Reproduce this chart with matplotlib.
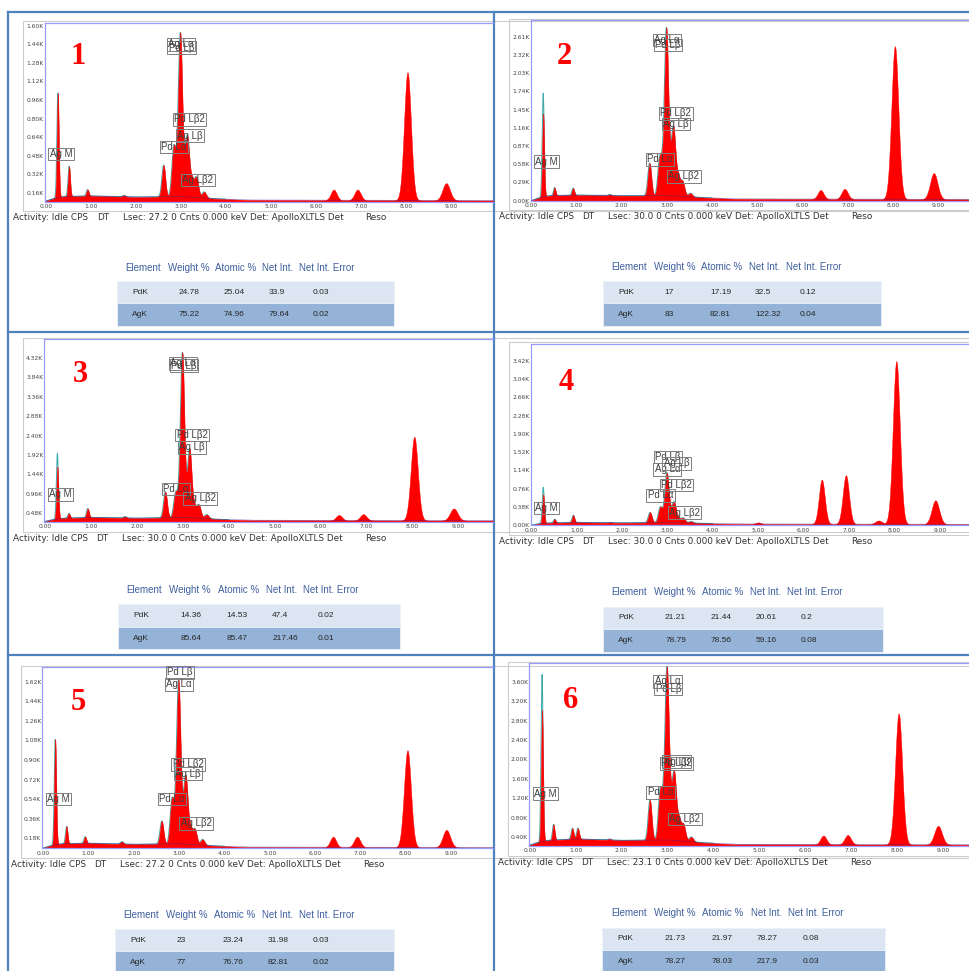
import matplotlib.pyplot as plt
from matplotlib.patches import Rectangle
import numpy as np

W, H = 970, 971

# peak energies (keV) used by all six EDS spectra
peak_keV = [0.27, 0.52, 0.93, 1.05, 1.74, 2.62, 2.84, 2.91, 2.99, 3.07, 3.15, 3.25, 3.35, 3.52,
            5.00, 6.40, 6.93, 7.65, 8.04, 8.90]

# peak tops (K counts)
peaks_1 = [1.02, 0.39, 0.19, 0.00, 0.14, 0.40, 0.52, 0.33, 1.48, 0.35, 0.61, 0.27, 0.29, 0.17, 0.00, 0.19, 0.19, 0.00, 1.20, 0.245]
peaks_2 = [1.39, 0.21, 0.20, 0.00, 0.10, 0.60, 0.62, 0.45, 2.64, 0.50, 1.10, 0.38, 0.30, 0.12, 0.00, 0.17, 0.19, 0.00, 2.46, 0.44]
peaks_3 = [1.63, 0.48, 0.60, 0.00, 0.40, 1.01, 0.93, 0.70, 4.35, 0.75, 2.00, 0.65, 0.68, 0.45, 0.00, 0.44, 0.46, 0.00, 2.37, 0.60]
peaks_4 = [0.64, 0.13, 0.21, 0.00, 0.06, 0.27, 0.35, 0.20, 1.05, 0.22, 0.46, 0.14, 0.15, 0.08, 0.06, 0.95, 1.04, 0.10, 3.41, 0.52]
peaks_5 = [1.09, 0.29, 0.195, 0.00, 0.15, 0.34, 0.50, 0.33, 1.575, 0.34, 0.72, 0.27, 0.26, 0.17, 0.00, 0.195, 0.195, 0.00, 0.99, 0.257]
peaks_6 = [3.02, 0.66, 0.58, 0.58, 0.36, 1.16, 1.27, 0.90, 3.74, 0.95, 1.64, 0.75, 0.65, 0.40, 0.00, 0.43, 0.44, 0.00, 2.95, 0.63]

# teal fit line top of the first (0.27 keV) peak
fit_first = [1.02, 1.71, 1.96, 0.79, 1.09, 3.75]

# background continuum
bg_keV = [0.0, 0.15, 0.4, 1.0, 2.0, 3.0, 3.8, 4.5, 10.6]
bg_1 = [0.09, 0.11, 0.13, 0.135, 0.125, 0.13, 0.11, 0.10, 0.095]
bg_2 = [0.00, 0.04, 0.08, 0.09, 0.08, 0.08, 0.05, 0.03, 0.02]
bg_3 = [0.28, 0.32, 0.36, 0.38, 0.36, 0.38, 0.33, 0.31, 0.30]
bg_4 = [0.00, 0.03, 0.05, 0.06, 0.05, 0.06, 0.04, 0.03, 0.02]
bg_5 = [0.09, 0.11, 0.13, 0.135, 0.125, 0.13, 0.11, 0.10, 0.095]
bg_6 = [0.23, 0.28, 0.33, 0.36, 0.33, 0.34, 0.28, 0.25, 0.24]

xticks_keV = [0, 1, 2, 3, 4, 5, 6, 7, 8, 9]
yticks_1 = [0.16, 0.32, 0.48, 0.64, 0.80, 0.96, 1.12, 1.28, 1.44, 1.60]
yticks_2 = [0.00, 0.29, 0.58, 0.87, 1.16, 1.45, 1.74, 2.03, 2.32, 2.61]
yticks_3 = [0.48, 0.96, 1.44, 1.92, 2.40, 2.88, 3.36, 3.84, 4.32]
yticks_4 = [0.00, 0.38, 0.76, 1.14, 1.52, 1.90, 2.28, 2.66, 3.04, 3.42]
yticks_5 = [0.18, 0.36, 0.54, 0.72, 0.90, 1.08, 1.26, 1.44, 1.62]
yticks_6 = [0.40, 0.80, 1.20, 1.60, 2.00, 2.40, 2.80, 3.20, 3.60]

label_names = ["Pd Lβ", "Ag Lα", "Ag M", "Pd Lα", "Ag Lβ", "Pd Lβ2", "Ag Lβ2"]
label_keV = [3.02, 3.00, 0.34, 2.85, 3.20, 3.20, 3.38]
label_y_1 = [1.41, 1.44, 0.496, 0.556, 0.653, 0.794, 0.272]
label_y_2 = [2.48, 2.56, 0.62, 0.66, 1.22, 1.39, 0.39]
label_y_3 = [4.12, 4.18, 0.95, 1.08, 2.11, 2.41, 0.85]
label_y_4 = [1.42, 1.16, 0.36, 0.62, 1.29, 0.84, 0.26]
label_y_5 = [1.707, 1.596, 0.54, 0.54, 0.774, 0.86, 0.318]
label_y_6 = [3.45, 3.61, 1.29, 1.32, 1.95, 1.92, 0.77]

lsec = ["27.2", "30.0", "30.0", "30.0", "27.2", "23.1"]

table_cols = ["Element", "Weight %", "Atomic %", "Net Int.", "Net Int. Error"]
elements = ["PdK", "AgK"]
table_1 = [["24.78", "25.04", "33.9", "0.03"], ["75.22", "74.96", "79.64", "0.02"]]
table_2 = [["17", "17.19", "32.5", "0.12"], ["83", "82.81", "122.32", "0.04"]]
table_3 = [["14.36", "14.53", "47.4", "0.02"], ["85.64", "85.47", "217.46", "0.01"]]
table_4 = [["21.21", "21.44", "20.61", "0.2"], ["78.79", "78.56", "59.16", "0.08"]]
table_5 = [["23", "23.24", "31.98", "0.03"], ["77", "76.76", "82.81", "0.02"]]
table_6 = [["21.73", "21.97", "78.27", "0.08"], ["78.27", "78.03", "217.9", "0.03"]]

panels = [
    (peaks_1, bg_1, yticks_1, label_y_1, table_1),
    (peaks_2, bg_2, yticks_2, label_y_2, table_2),
    (peaks_3, bg_3, yticks_3, label_y_3, table_3),
    (peaks_4, bg_4, yticks_4, label_y_4, table_4),
    (peaks_5, bg_5, yticks_5, label_y_5, table_5),
    (peaks_6, bg_6, yticks_6, label_y_6, table_6),
]

# pixel layout of each panel
# box = inner plot (left, top, bottom, right); x0/kx = pixel of 0 keV and px per keV
# frame = grey frame (left, top, bottom); num = panel number centre; table = (left, right, top, header y)
layout = [
    dict(box=(45, 22.7, 201.7, 493), x0=45.7, kx=45.0, ylim=(0.085, 1.626),
         frame=(23.5, 21, 211), num=(78, 56), table=(116.7, 394.3, 281, 267.7)),
    dict(box=(530.7, 20, 200.7, 970), x0=531, kx=45.26, ylim=(0.0, 2.877),
         frame=(509, 19, 210), num=(564, 56.7), table=(602.7, 881, 281, 267.3)),
    dict(box=(44.3, 339.3, 521.7, 493), x0=45, kx=45.93, ylim=(0.273, 4.774),
         frame=(22.7, 338.3, 532.3), num=(80, 375), table=(117.7, 400, 604.3, 589.7)),
    dict(box=(530.7, 344.3, 525.3, 970), x0=531, kx=45.44, ylim=(0.0, 3.76),
         frame=(509, 342.3, 535), num=(566, 382.7), table=(603, 882.7, 606.7, 592.3)),
    dict(box=(42.3, 667.3, 848.3, 493), x0=43, kx=45.33, ylim=(0.088, 1.752),
         frame=(21, 665.7, 858.3), num=(78.3, 702.7), table=(115, 394.3, 929, 914.7)),
    dict(box=(529.3, 663.3, 845.7, 970), x0=529.7, kx=45.89, ylim=(0.22, 3.98),
         frame=(507.7, 662.3, 856), num=(571, 700), table=(602.3, 885, 927.7, 913.3)),
]

E = np.linspace(0, 10.6, 5000)


def spectrum(peaks, bg, first=None):
    base = np.interp(E, bg_keV, bg)
    y = base.copy()
    for k, (e, h) in enumerate(zip(peak_keV, peaks)):
        if k == 0 and first is not None:
            h = first
        amp = max(h - np.interp(e, bg_keV, bg), 0)
        s = 0.02 + 0.007 * e
        y += amp * np.exp(-0.5 * ((E - e) / s) ** 2)
    return base, y


fig = plt.figure(figsize=(W / 100, H / 100), dpi=100)
canvas = fig.add_axes([0, 0, 1, 1])
canvas.set_xlim(0, W)
canvas.set_ylim(H, 0)
canvas.axis('off')

border = '#4f81bd'

for i, ((peaks, bg, yticks, label_y, table), lay) in enumerate(zip(panels, layout)):
    l, t, b, r = lay['box']
    fl, ft, fb = lay['frame']

    # grey frame around the plot
    canvas.add_patch(Rectangle((fl, ft), W + 50 - fl, fb - ft, fill=False,
                               edgecolor='#cccccc', lw=0.8))

    ax = fig.add_axes([l / W, 1 - b / H, (r - l) / W, (b - t) / H])
    ax.set_facecolor('none')
    x_lo = (l - lay['x0']) / lay['kx']
    x_hi = (r - lay['x0']) / lay['kx']
    ax.set_xlim(x_lo, x_hi)
    ax.set_ylim(*lay['ylim'])

    base, y = spectrum(peaks, bg)
    _, fit = spectrum(peaks, bg, fit_first[i])
    low = E <= 4.0
    # fitted line sits behind the measured spectrum
    ax.plot(E[low], fit[low], color='#3fa9a9', lw=0.7, zorder=1)
    ax.fill_between(E, lay['ylim'][0], y, color='#ff0000', lw=0.3, edgecolor='#ff0000', zorder=2)
    ax.plot(E, base, color='#2a2a9a', lw=0.4, alpha=0.6, zorder=3)

    for name, ek, yv in zip(label_names, label_keV, label_y):
        ax.text(ek, yv, name, ha='center', va='center', fontsize=7,
                family='Liberation Sans', color='#404040', zorder=4,
                bbox=dict(boxstyle='square,pad=0.14', fc='none', ec='#7f7f7f', lw=0.7))

    ax.set_xticks(xticks_keV)
    ax.set_xticklabels([f"{v:.2f}" for v in xticks_keV])
    ax.set_yticks(yticks)
    ax.set_yticklabels([f"{v:.2f}K" for v in yticks])
    ax.tick_params(length=0, labelsize=4.3, labelcolor='#444444')
    ax.tick_params(axis='y', pad=0.8)
    ax.tick_params(axis='x', pad=1.6)
    for side in ['left', 'top', 'bottom']:
        ax.spines[side].set_color('#9a9aff')
        ax.spines[side].set_linewidth(0.9)
    ax.spines['right'].set_visible(False)

    # panel number
    nx, ny = lay['num']
    canvas.text(nx, ny, str(i + 1), ha='center', va='center', fontsize=22,
                family='Liberation Serif', weight='bold', color='#ff0000')

    # status line under the spectrum
    sx, sy = fl - 10, fb + 6.3
    st = dict(fontsize=6.4, color='#333333', va='center', ha='left')
    canvas.text(sx, sy, "Activity: Idle CPS", **st)
    canvas.text(sx + 83.5, sy, "DT", **st)
    canvas.text(sx + 109.4, sy, f"Lsec: {lsec[i]} 0 Cnts 0.000 keV Det: ApolloXLTLS Det", **st)
    canvas.text(sx + 352, sy, "Reso", **st)

    # element table
    tl, tr, tt, hy = lay['table']
    tw = tr - tl
    rh = 22.5
    head_off = [0.031, 0.183, 0.354, 0.525, 0.657]
    for name, f in zip(table_cols, head_off):
        canvas.text(tl + f * tw, hy, name, fontsize=7, family='Liberation Sans',
                    color='#3f5f9f', va='center', ha='left')
    row_off = [0.055, 0.222, 0.385, 0.547, 0.707]
    for j, (el, vals) in enumerate(zip(elements, table)):
        canvas.add_patch(Rectangle((tl, tt + j * rh), tw, rh, lw=0.6,
                                   facecolor=['#dce6f2', '#95b3d7'][j], edgecolor='#eef2f8'))
        for s, f in zip([el] + vals, row_off):
            canvas.text(tl + f * tw, tt + j * rh + rh / 2, s, fontsize=6,
                        family='Liberation Sans', color='#262626', va='center', ha='left')

# blue panel borders
lw = 1.6
canvas.plot([8, W], [12, 12], color=border, lw=lw)
canvas.plot([8.3, 8.3], [12, H], color=border, lw=lw)
canvas.plot([494, 494], [12, H], color=border, lw=lw)
canvas.plot([8, W], [332.5, 332.5], color=border, lw=lw)
canvas.plot([8, W], [655, 655], color=border, lw=lw)

fig.savefig('out.png', dpi=100)
